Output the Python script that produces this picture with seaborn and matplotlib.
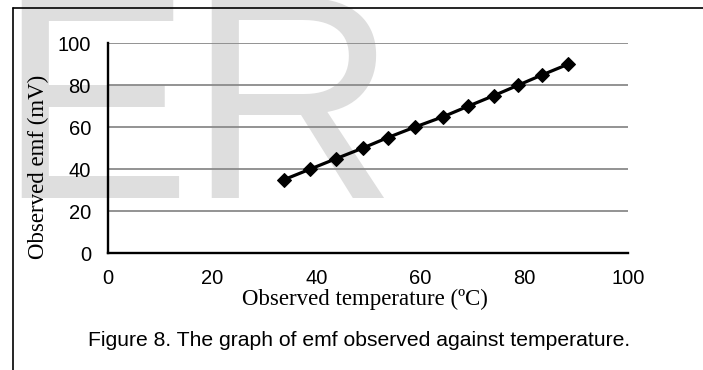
import seaborn as sns
import matplotlib.pyplot as plt
import pandas as pd
from matplotlib.lines import Line2D

# 读数自原图：温度 (°C) 与电动势 (mV)
temperature = [33.8, 38.8, 43.8, 48.9, 53.7, 58.9, 64.4, 69.2, 74.1, 78.8, 83.5, 88.4]
emf = [35, 40, 45, 50, 55, 60, 65, 70, 75, 80, 85, 90]
x_ticks = [0, 20, 40, 60, 80, 100]
y_ticks = [0, 20, 40, 60, 80, 100]

df = pd.DataFrame({"temperature": temperature, "emf": emf})

sns.set_theme(style="white")
plt.rcParams['font.family'] = ['Liberation Sans', 'DejaVu Sans']

fig = plt.figure(figsize=(7.03, 3.70), dpi=100)
fig.patch.set_facecolor("white")
ax = fig.add_axes([0.154, 0.316, 0.7397, 0.567])
ax.set_facecolor("none")

# 背景水印
fig.text(-3 / 703, 1 - 198 / 370, "E", fontsize=209, color="#dedede",
         ha="left", va="baseline", zorder=-5)
fig.text(187 / 703, 1 - 198 / 370, "R", fontsize=209, color="#dedede",
         ha="left", va="baseline", zorder=-5)

# 折线 + 菱形标记
sns.lineplot(data=df, x="temperature", y="emf", ax=ax, color="black",
             linewidth=2.3, marker="D", markersize=7.5, markeredgecolor="black",
             zorder=5)

ax.set_xlim(0, 100)
ax.set_ylim(0, 100)
ax.set_xticks(x_ticks)
ax.set_yticks(y_ticks)
ax.yaxis.grid(True, color="#8a8a8a", linewidth=1.3)
ax.xaxis.grid(False)
ax.set_axisbelow(True)

sns.despine(ax=ax)
for s in ["left", "bottom"]:
    ax.spines[s].set_color("black")
    ax.spines[s].set_linewidth(1.7)
    ax.spines[s].set_zorder(4)

ax.tick_params(axis="both", direction="out", length=4.5, width=1.4,
               color="black", labelsize=14.5, labelcolor="black")
ax.tick_params(axis="x", pad=7)
ax.tick_params(axis="y", pad=8)

serif = ['Liberation Serif', 'DejaVu Serif']
ax.set_xlabel("Observed temperature (ºC)", fontsize=16.5, family=serif,
              color="black")
ax.set_ylabel("Observed emf (mV)", fontsize=16.5, family=serif,
              color="black")
ax.xaxis.set_label_coords(0.493, -0.17)
ax.yaxis.set_label_coords(-0.113, 0.41)

fig.text(359 / 703, 1 - 341 / 370,
         "Figure 8. The graph of emf observed against temperature.",
         fontsize=15.2, color="black", ha="center", va="center")

# 外框（左、上）
fig.add_artist(Line2D([13.3 / 703, 13.3 / 703], [0, 1 - 8.3 / 370],
                      color="black", linewidth=1.2))
fig.add_artist(Line2D([13.3 / 703, 1], [1 - 8.3 / 370, 1 - 8.3 / 370],
                      color="black", linewidth=1.2))

fig.savefig("out.png", dpi=100)
